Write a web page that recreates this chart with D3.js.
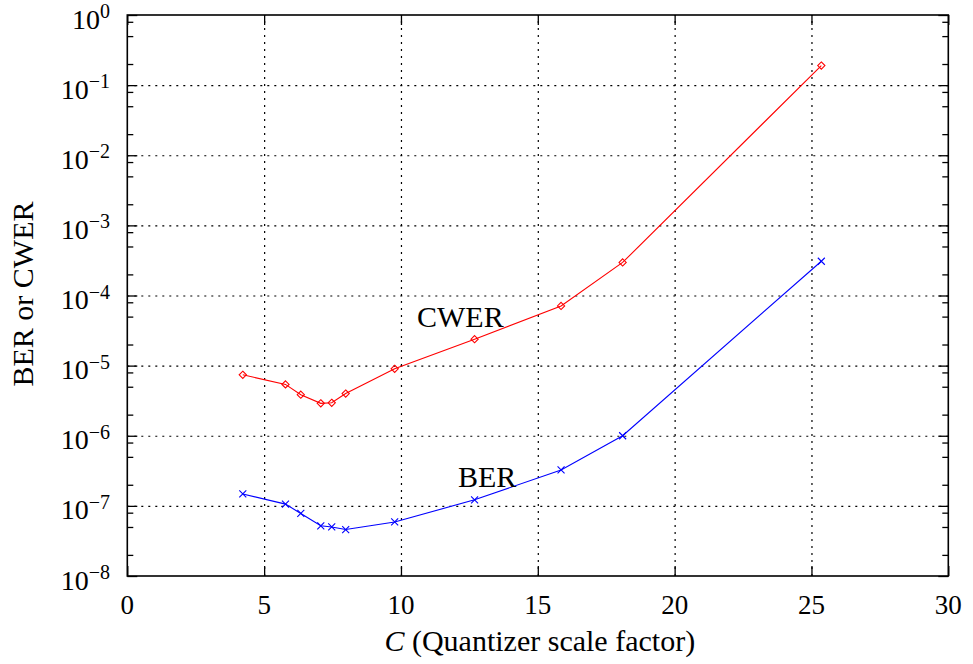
<!DOCTYPE html>
<html>
<head>
<meta charset="utf-8">
<script src="https://cdn.jsdelivr.net/npm/d3@7"></script>
<style>
  body { margin: 0; background: #fff; }
  text { font-family: "Liberation Serif", "DejaVu Serif", serif; fill: #000; }
</style>
</head>
<body>
<div id="chart"></div>
<script>
// values
const quantC = [4.22, 5.78, 6.34, 7.07, 7.47, 7.98, 9.77, 12.69, 15.85, 18.10, 25.36];
const cwer = [7.4e-6, 5.4e-6, 3.85e-6, 2.9e-6, 2.95e-6, 4.0e-6, 9.0e-6, 2.38e-5, 7.1e-5, 2.96e-4, 0.19];
const ber = [1.48e-7, 1.06e-7, 7.8e-8, 5.2e-8, 5.0e-8, 4.6e-8, 5.9e-8, 1.22e-7, 3.25e-7, 1.0e-6, 3.08e-4];
const xTicks = [0, 5, 10, 15, 20, 25, 30];
const yExponents = [0, -1, -2, -3, -4, -5, -6, -7, -8];
const minorFactors = [8, 5, 2];

const width = 973, height = 664;
const mLeft = 127.3, mRight = 948.3, mTop = 15, mBottom = 576;

const svg = d3.select("#chart")
    .append("svg")
    .attr("width", width)
    .attr("height", height);

const x = d3.scaleLinear().domain([0, 30]).range([mLeft, mRight]);
const y = d3.scaleLog().domain([1e-8, 1]).range([mBottom, mTop]);

const yMajor = yExponents.map(e => Math.pow(10, e));
const yMinor = [];
yExponents.slice(1).forEach(e => {
    minorFactors.forEach(f => yMinor.push(f * Math.pow(10, e)));
});

// dotted grid
svg.append("g")
    .attr("transform", `translate(0,${mBottom})`)
    .call(d3.axisBottom(x).tickValues(xTicks.slice(1, -1)).tickSize(-(mBottom - mTop)).tickFormat(""))
    .call(g => g.select(".domain").remove())
    .call(g => g.selectAll("line").attr("stroke", "#000").attr("stroke-width", 1.2).attr("stroke-dasharray", "2,5"));

svg.append("g")
    .attr("transform", `translate(${mLeft},0)`)
    .call(d3.axisLeft(y).tickValues(yMajor.slice(1, -1)).tickSize(-(mRight - mLeft)).tickFormat(""))
    .call(g => g.select(".domain").remove())
    .call(g => g.selectAll("line").attr("stroke", "#000").attr("stroke-width", 1.2).attr("stroke-dasharray", "2,5"));

// inward ticks on all four sides
function ticks(axis, tx, ty) {
    svg.append("g")
        .attr("transform", `translate(${tx},${ty})`)
        .call(axis)
        .call(g => g.select(".domain").remove())
        .call(g => g.selectAll("line").attr("stroke", "#000").attr("stroke-width", 1.3));
}
ticks(d3.axisBottom(x).tickValues(xTicks).tickSize(-10).tickFormat(""), 0, mBottom);
ticks(d3.axisTop(x).tickValues(xTicks).tickSize(-10).tickFormat(""), 0, mTop);
ticks(d3.axisLeft(y).tickValues(yMajor).tickSize(-10).tickFormat(""), mLeft, 0);
ticks(d3.axisRight(y).tickValues(yMajor).tickSize(-10).tickFormat(""), mRight, 0);
ticks(d3.axisLeft(y).tickValues(yMinor).tickSize(-6).tickFormat(""), mLeft, 0);
ticks(d3.axisRight(y).tickValues(yMinor).tickSize(-6).tickFormat(""), mRight, 0);

// frame
svg.append("rect")
    .attr("x", mLeft).attr("y", mTop)
    .attr("width", mRight - mLeft).attr("height", mBottom - mTop)
    .attr("fill", "none").attr("stroke", "#000").attr("stroke-width", 1.6);

// tick labels
svg.append("g").selectAll("text")
    .data(xTicks)
    .join("text")
    .attr("x", d => x(d))
    .attr("y", mBottom + 38)
    .attr("text-anchor", "middle")
    .attr("font-size", 27)
    .text(d => d);

const yLab = svg.append("g").selectAll("text")
    .data(yExponents)
    .join("text")
    .attr("x", 110)
    .attr("y", d => y(Math.pow(10, d)) + 13.5)
    .attr("text-anchor", "end")
    .attr("font-size", 28);
yLab.append("tspan").text("10");
yLab.append("tspan")
    .attr("dy", -10.5)
    .attr("font-size", 20)
    .text(d => d === 0 ? "0" : "\u2212" + (-d));

// axis titles
const xt = svg.append("text")
    .attr("x", (mLeft + mRight) / 2 + 2)
    .attr("y", 651)
    .attr("text-anchor", "middle")
    .attr("font-size", 30);
xt.append("tspan").attr("font-style", "italic").text("C");
xt.append("tspan").text(" (Quantizer scale factor)");

svg.append("text")
    .attr("transform", "translate(33,294) rotate(-90)")
    .attr("text-anchor", "middle")
    .attr("font-size", 30)
    .text("BER or CWER");

// series
const line = d3.line().x(d => x(d[0])).y(d => y(d[1]));
const cwerPts = quantC.map((c, i) => [c, cwer[i]]);
const berPts = quantC.map((c, i) => [c, ber[i]]);

svg.append("path").datum(cwerPts)
    .attr("d", line).attr("fill", "none").attr("stroke", "#ff0000").attr("stroke-width", 1.1);
svg.append("path").datum(berPts)
    .attr("d", line).attr("fill", "none").attr("stroke", "#0000ff").attr("stroke-width", 1.1);

svg.append("g").selectAll("path")
    .data(cwerPts)
    .join("path")
    .attr("transform", d => `translate(${x(d[0])},${y(d[1])})`)
    .attr("d", "M0,-3.6L3.6,0L0,3.6L-3.6,0Z")
    .attr("fill", "none").attr("stroke", "#ff0000").attr("stroke-width", 1.1);

svg.append("g").selectAll("path")
    .data(berPts)
    .join("path")
    .attr("transform", d => `translate(${x(d[0])},${y(d[1])})`)
    .attr("d", "M-3.5,-3.5L3.5,3.5M-3.5,3.5L3.5,-3.5")
    .attr("fill", "none").attr("stroke", "#0000ff").attr("stroke-width", 1.1);

// curve labels
svg.append("text").attr("x", 417).attr("y", 327).attr("font-size", 30).text("CWER");
svg.append("text").attr("x", 458).attr("y", 487).attr("font-size", 30).text("BER");
</script>
</body>
</html>
